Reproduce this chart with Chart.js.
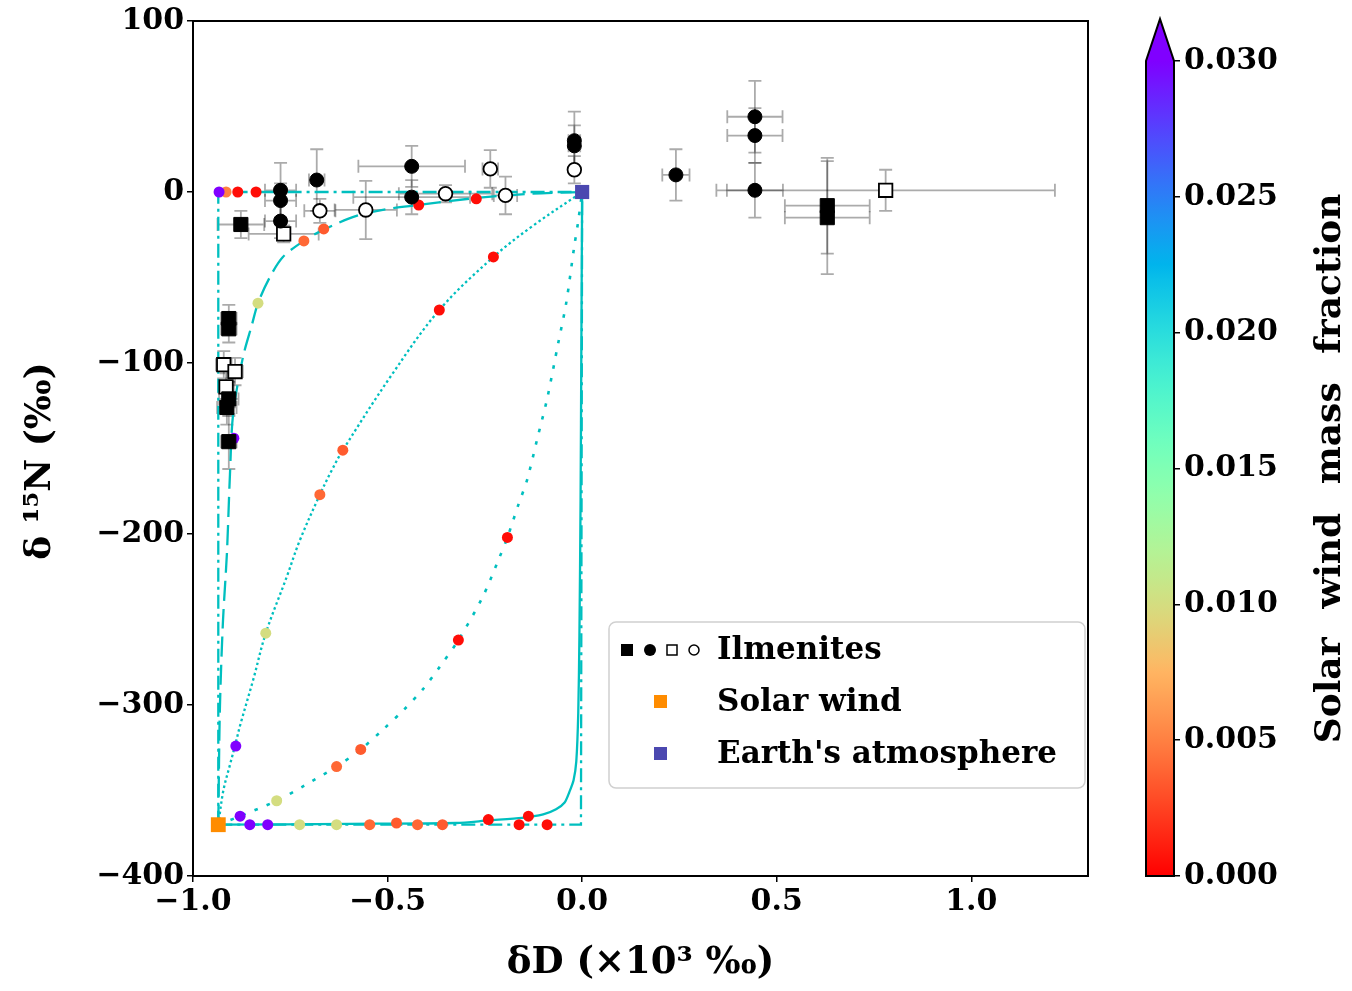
<!DOCTYPE html>
<html>
<head>
<meta charset="utf-8">
<script src="https://cdn.jsdelivr.net/npm/chart.js@4.4.1/dist/chart.umd.min.js"></script>
<style>
  html, body { margin: 0; padding: 0; background: #fff; }
  #main { position: absolute; left: 0; top: 0; width: 1100px; height: 991px; }
  #cbar { position: absolute; left: 1100px; top: 0; width: 252px; height: 991px; }
</style>
</head>
<body>
<div id="main"><canvas id="mixChart"></canvas></div>
<div id="cbar"><canvas id="cbarChart"></canvas></div>
<script>
// ---- data (dD in x10^3 permil, d15N in permil) ----
const xTicks = [-1.0, -0.5, 0.0, 0.5, 1.0];
const yTicks = [-400, -300, -200, -100, 0, 100];
const cbarTicks = [0, 0.005, 0.010, 0.015, 0.020, 0.025, 0.030];
const fMax = 0.03;

const solarWind = [[-0.935, -370]];
const earthAtm = [[0, 0]];

// ilmenites: [x, y, xerr, yerr]
const filledSquares = [
  [-0.877, -19, 0.06, 8], [-0.908, -74, 0.02, 8], [-0.908, -80, 0.02, 8],
  [-0.908, -121, 0.025, 10], [-0.913, -126, 0.025, 10], [-0.908, -146, 0.02, 16],
  [0.63, -8, 0.109, 28], [0.63, -15, 0.109, 33]
];
const filledCircles = [
  [-0.775, 1, 0.04, 16], [-0.775, -5, 0.04, 10], [-0.775, -17, 0.04, 10],
  [-0.682, 7, 0.02, 18], [-0.438, 15, 0.137, 12], [-0.438, -3, 0.15, 10],
  [-0.02, 30, 0.015, 17], [-0.02, 27, 0.015, 12], [0.241, 10, 0.035, 15],
  [0.444, 44, 0.071, 21], [0.444, 33, 0.071, 16], [0.444, 1, 0.072, 16]
];
const openSquares = [
  [-0.767, -24.5, 0.09, 5], [-0.921, -101, 0.02, 8], [-0.892, -105, 0.02, 8],
  [-0.915, -114, 0.02, 8], [0.78, 1, 0.435, 12]
];
const openCircles = [
  [-0.674, -11, 0.04, 7], [-0.556, -10.5, 0.08, 17], [-0.351, -1, 0.12, 5],
  [-0.236, 13.5, 0.02, 11], [-0.197, -2, 0.03, 11], [-0.02, 13, 0.01, 8]
];

// mixing curves
const curveLeftTop = [[-0.935, -370], [-0.935, 0], [0, 0]];
const curveBottomRight = [[-0.935, -370], [-0.003, -370], [0, 0]];
const curveDashed = [
  [-0.935, -370], [-0.931, -303], [-0.923, -251], [-0.913, -212], [-0.905, -165],
  [-0.897, -130], [-0.872, -97], [-0.849, -78], [-0.833, -65], [-0.803, -50],
  [-0.769, -38], [-0.718, -29], [-0.664, -22], [-0.58, -14], [-0.503, -10],
  [-0.42, -7.6], [-0.272, -3.5], [-0.128, -1], [0, 0]
];
const curveDotted = [
  [-0.935, -370], [-0.922, -350], [-0.905, -335], [-0.89, -322], [-0.879, -312],
  [-0.845, -285], [-0.813, -258], [-0.759, -225], [-0.726, -204], [-0.674, -177],
  [-0.644, -163], [-0.615, -151], [-0.491, -107.5], [-0.367, -69],
  [-0.228, -38], [-0.128, -20], [0, 0]
];
const curveSparseDotted = [
  [-0.935, -370], [-0.879, -365], [-0.785, -356], [-0.713, -347], [-0.631, -336],
  [-0.569, -326], [-0.51, -314], [-0.459, -303], [-0.41, -291], [-0.367, -278],
  [-0.318, -262], [-0.256, -237], [-0.213, -214], [-0.192, -202], [-0.164, -183],
  [-0.141, -168], [-0.115, -144], [-0.09, -121], [-0.062, -89], [-0.041, -65],
  [-0.021, -33], [-0.01, -17], [0, 0]
];
const curveSolid = [
  [-0.935, -370], [-0.6, -369.5], [-0.323, -369], [-0.241, -367.5], [-0.154, -366],
  [-0.1, -364], [-0.067, -361], [-0.045, -357], [-0.033, -351], [-0.022, -344],
  [-0.015, -333], [-0.01, -305], [-0.007, -260], [-0.004, -180], [-0.002, -90], [0, 0]
];

// coloured mixing points: [x, y, solar wind mass fraction]
const mixPoints = [
  [-0.915, 0, 0.005], [-0.933, 0, 0.03], [-0.885, 0, 0.0005], [-0.838, 0, 0.0005],
  [-0.895, -144, 0.03], [-0.833, -65, 0.01], [-0.715, -28.6, 0.004], [-0.664, -21.6, 0.0035],
  [-0.42, -7.6, 0.0005], [-0.272, -4, 0.0005],
  [-0.89, -324, 0.03], [-0.813, -258, 0.01], [-0.674, -177, 0.004], [-0.615, -151, 0.0035],
  [-0.367, -69, 0.0005], [-0.228, -38, 0.0005],
  [-0.879, -365, 0.03], [-0.785, -356, 0.01], [-0.631, -336, 0.004], [-0.569, -326, 0.0035],
  [-0.318, -262, 0.0005], [-0.192, -202, 0.0005],
  [-0.854, -370, 0.03], [-0.808, -370, 0.03], [-0.726, -370, 0.01], [-0.631, -370, 0.01],
  [-0.546, -370, 0.004], [-0.477, -369, 0.0035], [-0.423, -370, 0.004], [-0.359, -370, 0.0035],
  [-0.241, -367, 0.0005], [-0.162, -370, 0.0005], [-0.138, -365, 0.0005], [-0.09, -370, 0.0005]
];

const legendLabels = ['Ilmenites', 'Solar wind', "Earth's atmosphere"];
const xTitle = 'δD (×10³ ‰)';
const yTitle = 'δ ¹⁵N (‰)  ';
const cbarTitle = 'Solar wind mass fraction';

// ---- styling ----
const serif = '"DejaVu Serif", "Liberation Serif", serif';
Chart.defaults.font.family = serif;
Chart.defaults.font.weight = 'bold';
Chart.defaults.font.size = 30;
Chart.defaults.color = '#000';

const cyan = '#00BFBF';
const swColor = '#FF8C00';
const atmColor = '#4B48B0';

// matplotlib "rainbow_r" over 0..fMax
function rainbowR(f) {
  const t = 1 - Math.min(Math.max(f / fMax, 0), 1);
  const r = Math.min(1, Math.abs(2 * t - 0.5));
  const g = Math.sin(Math.PI * t);
  const b = Math.cos(Math.PI * t / 2);
  return 'rgb(' + Math.round(r * 255) + ',' + Math.round(g * 255) + ',' + Math.round(b * 255) + ')';
}

const fmt = (v, d) => (v < -1e-9 ? '\u2212' : '') + Math.abs(v).toFixed(d);
const toXY = arr => arr.map(p => ({ x: p[0], y: p[1] }));

function curve(pts, dash, width, tension) {
  return {
    data: toXY(pts), showLine: true, borderColor: cyan, borderWidth: width,
    borderDash: dash, borderCapStyle: 'butt', pointRadius: 0, pointHitRadius: 0,
    tension: tension, fill: false, order: 6
  };
}

function ilmenite(arr, style, radius, fill, bw) {
  return {
    data: toXY(arr), errors: arr.map(p => [p[2], p[3]]), showLine: false,
    pointStyle: style, pointRadius: radius, pointBackgroundColor: fill,
    pointBorderColor: '#000', pointBorderWidth: bw, order: 2
  };
}

const errorBarPlugin = {
  id: 'errorBars',
  beforeDatasetsDraw(chart) {
    const { ctx, scales: { x, y } } = chart;
    const cap = 6.5;
    ctx.save();
    ctx.strokeStyle = 'rgba(0,0,0,0.33)';
    ctx.lineWidth = 1.8;
    chart.data.datasets.forEach(ds => {
      if (!ds.errors) return;
      ds.errors.forEach((e, i) => {
        const p = ds.data[i];
        const px = x.getPixelForValue(p.x), py = y.getPixelForValue(p.y);
        const x0 = x.getPixelForValue(p.x - e[0]), x1 = x.getPixelForValue(p.x + e[0]);
        const y0 = y.getPixelForValue(p.y - e[1]), y1 = y.getPixelForValue(p.y + e[1]);
        ctx.beginPath();
        ctx.moveTo(x0, py); ctx.lineTo(x1, py);
        ctx.moveTo(x0, py - cap); ctx.lineTo(x0, py + cap);
        ctx.moveTo(x1, py - cap); ctx.lineTo(x1, py + cap);
        ctx.moveTo(px, y0); ctx.lineTo(px, y1);
        ctx.moveTo(px - cap, y0); ctx.lineTo(px + cap, y0);
        ctx.moveTo(px - cap, y1); ctx.lineTo(px + cap, y1);
        ctx.stroke();
      });
    });
    ctx.restore();
  }
};

const frameLegendPlugin = {
  id: 'frameLegend',
  afterDraw(chart) {
    const { ctx, chartArea: a } = chart;
    ctx.save();
    // axes box
    ctx.strokeStyle = '#000';
    ctx.lineWidth = 2;
    ctx.strokeRect(a.left, a.top, a.right - a.left, a.bottom - a.top);

    // legend box
    const bx = a.right - 479, by = a.bottom - 254, bw = 476, bh = 166;
    ctx.beginPath();
    if (ctx.roundRect) ctx.roundRect(bx, by, bw, bh, 7); else ctx.rect(bx, by, bw, bh);
    ctx.fillStyle = 'rgba(255,255,255,0.85)';
    ctx.fill();
    ctx.strokeStyle = '#d0d0d0';
    ctx.lineWidth = 1.5;
    ctx.stroke();

    const rows = [by + 28, by + 80, by + 132];
    // ilmenite marker group
    ctx.fillStyle = '#000';
    ctx.fillRect(bx + 12, rows[0] - 6, 12, 12);
    ctx.beginPath(); ctx.arc(bx + 41, rows[0], 6, 0, 2 * Math.PI); ctx.fill();
    ctx.strokeStyle = '#000'; ctx.lineWidth = 1.5;
    ctx.strokeRect(bx + 58, rows[0] - 5, 10, 10);
    ctx.beginPath(); ctx.arc(bx + 85, rows[0], 5, 0, 2 * Math.PI); ctx.stroke();
    // end members
    ctx.fillStyle = swColor;
    ctx.fillRect(bx + 45, rows[1] - 7, 13, 13);
    ctx.fillStyle = atmColor;
    ctx.fillRect(bx + 45, rows[2] - 7, 13, 13);

    ctx.fillStyle = '#000';
    ctx.font = 'bold 31px ' + serif;
    ctx.textAlign = 'left';
    ctx.textBaseline = 'middle';
    legendLabels.forEach((t, i) => ctx.fillText(t, bx + 108, rows[i] + 1));
    ctx.restore();
  }
};

new Chart(document.getElementById('mixChart'), {
  type: 'scatter',
  data: {
    datasets: [
      curve(curveLeftTop, [14, 5, 3, 5], 2.3, 0),
      curve(curveBottomRight, [14, 5, 3, 5], 2.3, 0),
      curve(curveDashed, [20, 8], 2.3, 0.3),
      curve(curveDotted, [2.5, 2.8], 2.3, 0.35),
      curve(curveSparseDotted, [3.5, 9.5], 2.6, 0.3),
      curve(curveSolid, [], 2.3, 0.25),
      {
        data: toXY(mixPoints), showLine: false, pointRadius: 5.5, pointBorderWidth: 0,
        pointBackgroundColor: mixPoints.map(p => rainbowR(p[2])), order: 4
      },
      ilmenite(filledSquares, 'rect', 10, '#000', 1),
      ilmenite(filledCircles, 'circle', 7, '#000', 1),
      ilmenite(openSquares, 'rect', 9.5, '#fff', 1.8),
      ilmenite(openCircles, 'circle', 6.8, '#fff', 1.8),
      { data: toXY(solarWind), showLine: false, pointStyle: 'rect', pointRadius: 10.5,
        pointBackgroundColor: swColor, pointBorderWidth: 0, order: 1 },
      { data: toXY(earthAtm), showLine: false, pointStyle: 'rect', pointRadius: 10,
        pointBackgroundColor: atmColor, pointBorderWidth: 0, order: 1 }
    ]
  },
  options: {
    responsive: true,
    maintainAspectRatio: false,
    animation: false,
    layout: { padding: { left: 0, right: 12, top: 20, bottom: 0 } },
    plugins: { legend: { display: false }, tooltip: { enabled: false } },
    scales: {
      x: {
        type: 'linear', min: -1.0, max: 1.3,
        afterBuildTicks: s => { s.ticks = xTicks.map(v => ({ value: v })); },
        afterFit: s => { s.height = 115; },
        ticks: { callback: v => fmt(v, 1), padding: 2, maxRotation: 0 },
        grid: { drawOnChartArea: false, drawTicks: true, tickLength: 6, color: '#000', lineWidth: 1.5 },
        border: { display: true, color: '#000', width: 2 },
        title: { display: true, text: xTitle, font: { size: 37, weight: 'bold' }, padding: { top: 0, bottom: 5 } }
      },
      y: {
        type: 'linear', min: -400, max: 100,
        afterBuildTicks: s => { s.ticks = yTicks.map(v => ({ value: v })); },
        afterFit: s => { s.width = 193; },
        ticks: { callback: v => fmt(v, 0), padding: 3 },
        grid: { drawOnChartArea: false, drawTicks: true, tickLength: 6, color: '#000', lineWidth: 1.5 },
        border: { display: true, color: '#000', width: 2 },
        title: { display: true, text: yTitle, font: { size: 36, weight: 'bold' }, padding: { top: 19, bottom: 0 } }
      }
    }
  },
  plugins: [errorBarPlugin, frameLegendPlugin]
});

// ---- colour bar ----
const colorbarPlugin = {
  id: 'colorbar',
  beforeDraw(chart) {
    const { ctx, chartArea: a } = chart;
    const mid = (a.left + a.right) / 2;
    ctx.save();
    const grad = ctx.createLinearGradient(0, a.bottom, 0, a.top);
    for (let i = 0; i <= 60; i++) grad.addColorStop(i / 60, rainbowR(fMax * i / 60));
    ctx.fillStyle = grad;
    ctx.fillRect(a.left, a.top, a.right - a.left, a.bottom - a.top);
    ctx.beginPath();
    ctx.moveTo(a.left, a.top); ctx.lineTo(mid, a.top - 42); ctx.lineTo(a.right, a.top);
    ctx.closePath();
    ctx.fillStyle = rainbowR(fMax);
    ctx.fill();
    ctx.beginPath();
    ctx.moveTo(a.left, a.bottom); ctx.lineTo(a.left, a.top); ctx.lineTo(mid, a.top - 42);
    ctx.lineTo(a.right, a.top); ctx.lineTo(a.right, a.bottom); ctx.closePath();
    ctx.lineWidth = 2;
    ctx.strokeStyle = '#000';
    ctx.stroke();

    ctx.translate(a.right + 157, (a.top + a.bottom) / 2);
    ctx.rotate(-Math.PI / 2);
    ctx.font = 'bold 36px ' + serif;
    if ('wordSpacing' in ctx) ctx.wordSpacing = '16px';
    ctx.textAlign = 'center';
    ctx.textBaseline = 'middle';
    ctx.fillStyle = '#000';
    ctx.fillText(cbarTitle, 0, 0);
    ctx.restore();
  }
};

new Chart(document.getElementById('cbarChart'), {
  type: 'scatter',
  data: { datasets: [] },
  options: {
    responsive: true,
    maintainAspectRatio: false,
    animation: false,
    layout: { padding: { left: 46, right: 0, top: 61, bottom: 115 } },
    plugins: { legend: { display: false }, tooltip: { enabled: false } },
    scales: {
      x: { display: false, min: 0, max: 1 },
      y: {
        position: 'right', min: 0, max: fMax,
        afterBuildTicks: s => { s.ticks = cbarTicks.map(v => ({ value: v })); },
        afterFit: s => { s.width = 178; },
        ticks: { callback: v => v.toFixed(3), padding: 4 },
        grid: { drawOnChartArea: false, drawTicks: true, tickLength: 6, color: '#000', lineWidth: 1.5 },
        border: { display: false }
      }
    }
  },
  plugins: [colorbarPlugin]
});
</script>
</body>
</html>
